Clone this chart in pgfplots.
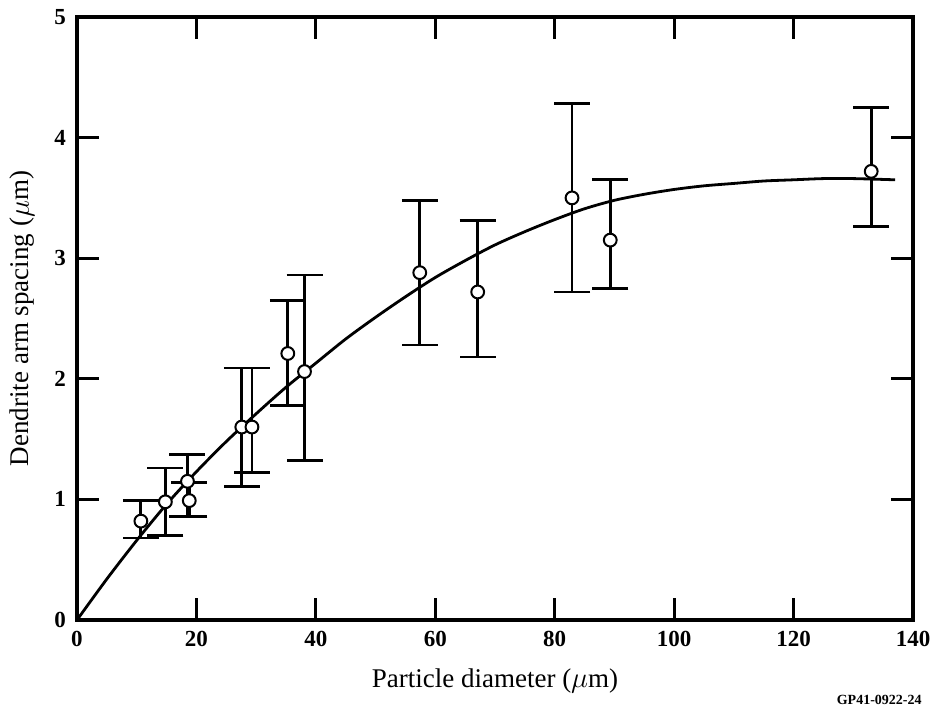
\documentclass[border=0pt]{standalone}
\usepackage{fontspec}
\setmainfont{Liberation Serif}
\usepackage{pgfplots}
\pgfplotsset{compat=1.18}
\begin{document}
\begin{tikzpicture}
\begin{axis}[
  scale only axis, width=418pt, height=301.5pt,
  xmin=0, xmax=140, ymin=0, ymax=5,
  xtick={0,20,...,140}, ytick={0,1,2,3,4,5},
  tick align=inside, major tick length=11pt,
  tick style={line width=1.4pt, black},
  axis line style={line width=1.8pt},
  ticklabel style={font=\bfseries\fontsize{11.5}{13}\selectfont},
  xticklabel style={yshift=-2pt},
  yticklabel style={xshift=-2pt},
  /pgf/number format/assume math mode=true,
  xlabel={Particle diameter ($\mu$m)},
  ylabel={Dendrite arm spacing ($\mu$m)},
  label style={font=\fontsize{13.5}{15}\selectfont},
  xlabel shift=4pt,
  ylabel shift=3pt,
  clip=false,
]
\addplot[black, line width=1.4pt, smooth] coordinates {
(0,0) (5,0.34) (10,0.66) (15,0.96) (20,1.23) (25,1.48) (30,1.71) (35,1.93)
(40,2.13) (45,2.33) (50,2.51) (55,2.68) (60,2.84) (65,2.98) (70,3.11)
(75,3.22) (80,3.32) (85,3.41) (90,3.48) (95,3.53) (100,3.57) (105,3.60)
(110,3.62) (115,3.64) (120,3.65) (125,3.66) (130,3.66) (137,3.65)
};
\addplot[draw=none, mark=none,
  error bars/.cd, y dir=both, y explicit,
  error bar style={line width=1.4pt, black},
  error mark options={rotate=90, line width=1.4pt, black, mark size=9pt}]
coordinates {
(10.7,0.82) += (0,0.17) -= (0,0.14)
(14.8,0.98) += (0,0.28) -= (0,0.28)
(18.5,1.15) += (0,0.22) -= (0,0.29)
(18.8,0.99) += (0,0.15) -= (0,0.13)
(27.6,1.60) += (0,0.49) -= (0,0.49)
(29.3,1.60) += (0,0.49) -= (0,0.38)
(35.3,2.21) += (0,0.44) -= (0,0.43)
(38.1,2.06) += (0,0.80) -= (0,0.74)
(57.4,2.88) += (0,0.60) -= (0,0.60)
(67.1,2.72) += (0,0.59) -= (0,0.54)
(82.9,3.50) += (0,0.78) -= (0,0.78)
(89.3,3.15) += (0,0.50) -= (0,0.40)
(133.0,3.72) += (0,0.53) -= (0,0.46)
};
\addplot[only marks, mark=*, mark size=3.2pt,
  mark options={fill=white, draw=black, line width=1pt}]
coordinates {
(10.7,0.82) (14.8,0.98) (18.5,1.15) (18.8,0.99) (27.6,1.60) (29.3,1.60)
(35.3,2.21) (38.1,2.06) (57.4,2.88) (67.1,2.72) (82.9,3.50) (89.3,3.15)
(133.0,3.72)
};
\end{axis}
\node[anchor=east, font=\bfseries\fontsize{7}{8}\selectfont, inner sep=0pt]
  at ([xshift=4.5pt, yshift=-40pt]current axis.south east) {GP41-0922-24};
\pgfresetboundingbox
\useasboundingbox ([xshift=-38.5pt, yshift=-45.5pt]current axis.south west)
  rectangle ([xshift=11.5pt, yshift=8.5pt]current axis.north east);
\end{tikzpicture}
\end{document}
